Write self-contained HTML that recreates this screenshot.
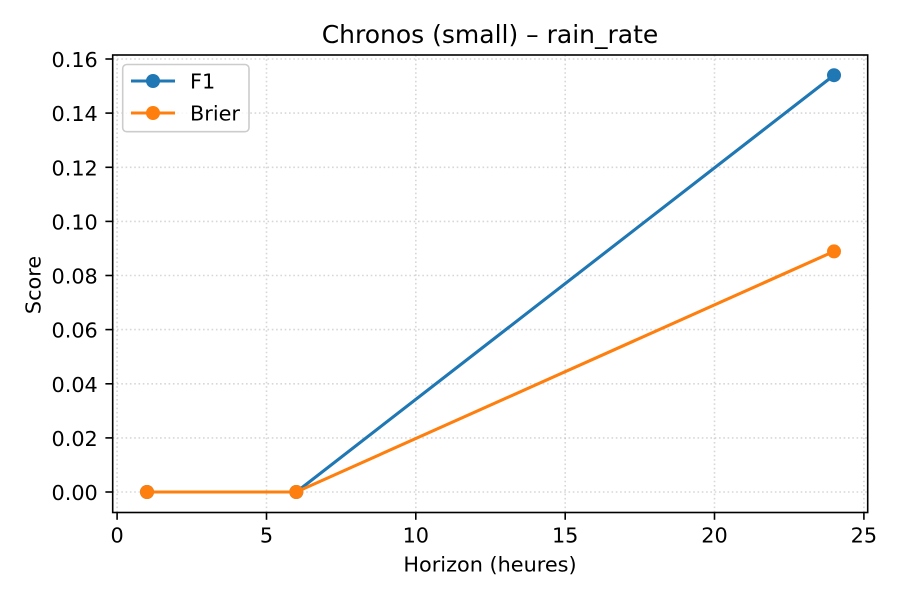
<!DOCTYPE html>
<html><head><meta charset="utf-8"><style>
html,body{margin:0;padding:0;background:#fff;}
svg{display:block;}
text{font-family:"DejaVu Sans","Liberation Sans",sans-serif;fill:#000;}
</style></head><body>
<svg width="900" height="600" viewBox="0 0 900 600" xmlns="http://www.w3.org/2000/svg">
<rect width="900" height="600" fill="#fff"/>
<!-- grid -->
<g stroke="#b0b0b0" stroke-opacity="0.5" stroke-width="1.6" stroke-dasharray="1.6,2.7">
<line x1="117.1" y1="55" x2="117.1" y2="512.5"/>
<line x1="266.5" y1="55" x2="266.5" y2="512.5"/>
<line x1="415.8" y1="55" x2="415.8" y2="512.5"/>
<line x1="565.2" y1="55" x2="565.2" y2="512.5"/>
<line x1="714.5" y1="55" x2="714.5" y2="512.5"/>
<line x1="863.9" y1="55" x2="863.9" y2="512.5"/>
<line x1="112.7" y1="492" x2="867.7" y2="492"/>
<line x1="112.7" y1="437.9" x2="867.7" y2="437.9"/>
<line x1="112.7" y1="383.8" x2="867.7" y2="383.8"/>
<line x1="112.7" y1="329.6" x2="867.7" y2="329.6"/>
<line x1="112.7" y1="275.5" x2="867.7" y2="275.5"/>
<line x1="112.7" y1="221.4" x2="867.7" y2="221.4"/>
<line x1="112.7" y1="167.3" x2="867.7" y2="167.3"/>
<line x1="112.7" y1="113.1" x2="867.7" y2="113.1"/>
<line x1="112.7" y1="59" x2="867.7" y2="59"/>
</g>
<!-- series -->
<polyline points="147,492 296.3,492 834,75.2" fill="none" stroke="#1f77b4" stroke-width="3.1" stroke-linejoin="round" stroke-linecap="square"/>
<g fill="#1f77b4"><circle cx="147" cy="492" r="7"/><circle cx="296.3" cy="492" r="7"/><circle cx="834" cy="75.2" r="7"/></g>
<polyline points="147,492 296.3,492 834,251.4" fill="none" stroke="#ff7f0e" stroke-width="3.1" stroke-linejoin="round" stroke-linecap="square"/>
<g fill="#ff7f0e"><circle cx="147" cy="492" r="7"/><circle cx="296.3" cy="492" r="7"/><circle cx="834" cy="251.4" r="7"/></g>
<!-- spines -->
<rect x="112.7" y="55" width="755" height="457.5" fill="none" stroke="#000" stroke-width="1.6"/>
<!-- ticks -->
<g stroke="#000" stroke-width="1.6">
<line x1="117.1" y1="512.5" x2="117.1" y2="519.8"/>
<line x1="266.5" y1="512.5" x2="266.5" y2="519.8"/>
<line x1="415.8" y1="512.5" x2="415.8" y2="519.8"/>
<line x1="565.2" y1="512.5" x2="565.2" y2="519.8"/>
<line x1="714.5" y1="512.5" x2="714.5" y2="519.8"/>
<line x1="863.9" y1="512.5" x2="863.9" y2="519.8"/>
<line x1="105.4" y1="492" x2="112.7" y2="492"/>
<line x1="105.4" y1="437.9" x2="112.7" y2="437.9"/>
<line x1="105.4" y1="383.8" x2="112.7" y2="383.8"/>
<line x1="105.4" y1="329.6" x2="112.7" y2="329.6"/>
<line x1="105.4" y1="275.5" x2="112.7" y2="275.5"/>
<line x1="105.4" y1="221.4" x2="112.7" y2="221.4"/>
<line x1="105.4" y1="167.3" x2="112.7" y2="167.3"/>
<line x1="105.4" y1="113.1" x2="112.7" y2="113.1"/>
<line x1="105.4" y1="59" x2="112.7" y2="59"/>
</g>
<g font-size="20.8" text-anchor="middle">
<text x="117.1" y="542.5">0</text>
<text x="266.5" y="542.5">5</text>
<text x="415.8" y="542.5">10</text>
<text x="565.2" y="542.5">15</text>
<text x="714.5" y="542.5">20</text>
<text x="863.9" y="542.5">25</text>
</g>
<g font-size="20.8" text-anchor="end">
<text x="97.8" y="500">0.00</text>
<text x="97.8" y="445.9">0.02</text>
<text x="97.8" y="391.8">0.04</text>
<text x="97.8" y="337.6">0.06</text>
<text x="97.8" y="283.5">0.08</text>
<text x="97.8" y="229.4">0.10</text>
<text x="97.8" y="175.3">0.12</text>
<text x="97.8" y="121.1">0.14</text>
<text x="97.8" y="67">0.16</text>
</g>
<text x="490" y="571.5" font-size="20.8" text-anchor="middle">Horizon (heures)</text>
<text transform="translate(40.5,285) rotate(-90)" font-size="20.8" text-anchor="middle">Score</text>
<text x="490" y="43" font-size="25" text-anchor="middle">Chronos (small) – rain_rate</text>
<!-- legend -->
<rect x="122.7" y="64.5" width="126.3" height="67.2" rx="4" ry="4" fill="#fff" fill-opacity="0.8" stroke="#cccccc" stroke-width="1.6"/>
<line x1="131" y1="81" x2="175" y2="81" stroke="#1f77b4" stroke-width="3.1"/>
<circle cx="153" cy="81" r="7" fill="#1f77b4"/>
<text x="190" y="88.3" font-size="20.8">F1</text>
<line x1="131" y1="113" x2="175" y2="113" stroke="#ff7f0e" stroke-width="3.1"/>
<circle cx="153" cy="113" r="7" fill="#ff7f0e"/>
<text x="190" y="120.3" font-size="20.8">Brier</text>
</svg>
</body></html>
